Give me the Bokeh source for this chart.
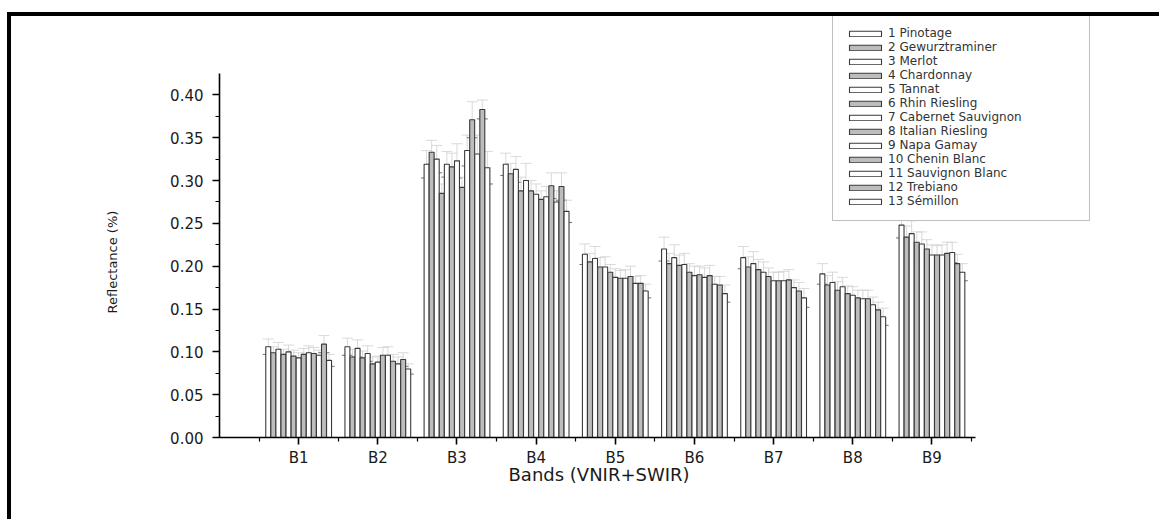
from bokeh.plotting import figure
from bokeh.models import (ColumnDataSource, Legend, LegendItem, FixedTicker,
                          SingleIntervalTicker, NumeralTickFormatter, Whisker,
                          Range1d, TeeHead, Spacer, Title)
from bokeh.layouts import column, row
from bokeh.transform import dodge
from bokeh.embed import file_html
from bokeh.resources import INLINE

bands = ["B1", "B2", "B3", "B4", "B5", "B6", "B7", "B8", "B9"]
varieties = ["1 Pinotage", "2 Gewurztraminer", "3 Merlot", "4 Chardonnay", "5 Tannat",
             "6 Rhin Riesling", "7 Cabernet Sauvignon", "8 Italian Riesling",
             "9 Napa Gamay", "10 Chenin Blanc", "11 Sauvignon Blanc", "12 Trebiano",
             "13 Sémillon"]

# mean reflectance per band, one value per variety (1..13)
B1 = [0.106, 0.099, 0.103, 0.097, 0.100, 0.095, 0.093, 0.097, 0.099, 0.098, 0.096, 0.109, 0.090]
B2 = [0.106, 0.094, 0.104, 0.093, 0.098, 0.086, 0.088, 0.096, 0.096, 0.089, 0.086, 0.091, 0.080]
B3 = [0.319, 0.333, 0.325, 0.285, 0.319, 0.316, 0.323, 0.292, 0.335, 0.371, 0.331, 0.383, 0.315]
B4 = [0.319, 0.308, 0.313, 0.288, 0.300, 0.288, 0.284, 0.278, 0.281, 0.294, 0.275, 0.293, 0.264]
B5 = [0.214, 0.205, 0.209, 0.199, 0.199, 0.193, 0.187, 0.186, 0.186, 0.188, 0.180, 0.180, 0.171]
B6 = [0.220, 0.203, 0.210, 0.201, 0.202, 0.193, 0.189, 0.190, 0.187, 0.189, 0.179, 0.178, 0.168]
B7 = [0.210, 0.199, 0.203, 0.196, 0.193, 0.188, 0.183, 0.183, 0.183, 0.184, 0.175, 0.171, 0.163]
B8 = [0.191, 0.178, 0.181, 0.172, 0.176, 0.168, 0.166, 0.163, 0.162, 0.162, 0.155, 0.149, 0.141]
B9 = [0.248, 0.234, 0.238, 0.228, 0.226, 0.220, 0.213, 0.213, 0.213, 0.215, 0.216, 0.203, 0.193]

# standard deviations per band
E1 = [0.009, 0.007, 0.008, 0.006, 0.008, 0.007, 0.006, 0.007, 0.008, 0.007, 0.006, 0.010, 0.007]
E2 = [0.010, 0.009, 0.010, 0.008, 0.009, 0.008, 0.007, 0.009, 0.010, 0.008, 0.008, 0.008, 0.006]
E3 = [0.016, 0.014, 0.016, 0.011, 0.015, 0.016, 0.020, 0.012, 0.018, 0.021, 0.022, 0.011, 0.019]
E4 = [0.013, 0.012, 0.015, 0.016, 0.020, 0.012, 0.012, 0.010, 0.012, 0.015, 0.013, 0.016, 0.013]
E5 = [0.012, 0.010, 0.014, 0.011, 0.012, 0.009, 0.010, 0.009, 0.010, 0.012, 0.008, 0.009, 0.008]
E6 = [0.014, 0.012, 0.015, 0.012, 0.013, 0.010, 0.011, 0.010, 0.011, 0.012, 0.009, 0.010, 0.010]
E7 = [0.013, 0.012, 0.014, 0.012, 0.012, 0.010, 0.010, 0.010, 0.011, 0.012, 0.009, 0.010, 0.011]
E8 = [0.012, 0.011, 0.012, 0.010, 0.011, 0.009, 0.010, 0.009, 0.010, 0.010, 0.009, 0.009, 0.010]
E9 = [0.015, 0.013, 0.015, 0.012, 0.014, 0.011, 0.012, 0.011, 0.012, 0.013, 0.012, 0.011, 0.010]

band_values = [B1, B2, B3, B4, B5, B6, B7, B8, B9]
band_errors = [E1, E2, E3, E4, E5, E6, E7, E8, E9]
band_pos = [1, 2, 3, 4, 5, 6, 7, 8, 9]

W, H = 1159, 519
OX, OY = 11, 16            # page offset of the plot canvas (black frame lines)
PW, PH = W - OX, H - OY
FL, FB = 219 - OX, 437 - OY  # frame left / bottom inside the canvas
px_per_x = 79.16
px_per_y = 856.5

p = figure(width=PW, height=PH, output_backend="svg", toolbar_location=None,
           x_range=Range1d(0, (PW - FL) / px_per_x),
           y_range=Range1d(0, FB / px_per_y),
           min_border_left=FL, min_border_right=0,
           min_border_top=0, min_border_bottom=PH - FB)
p.background_fill_color = "white"
p.border_fill_color = "white"
p.outline_line_color = None
p.xgrid.visible = False
p.ygrid.visible = False

bw = 0.064
fills = ["white", "#bdbdbd"]
items = []
for i, name in enumerate(varieties):
    tops = [bv[i] for bv in band_values]
    errs = [be[i] for be in band_errors]
    src = ColumnDataSource(dict(x=band_pos, top=tops,
                                lo=[t - e for t, e in zip(tops, errs)],
                                hi=[t + e for t, e in zip(tops, errs)]))
    off = (i - 6) * bw
    r = p.vbar(x=dodge("x", off, range=p.x_range), top="top", bottom=0, width=bw * 0.98,
               source=src, fill_color=fills[i % 2], line_color="#3a3a3a", line_width=1.1)
    w = Whisker(base=dodge("x", off, range=p.x_range), upper="hi", lower="lo", source=src,
                line_color="#cfcfcf", line_width=0.8,
                upper_head=TeeHead(size=11, line_color="#d0d0d0", line_width=0.8),
                lower_head=TeeHead(size=11, line_color="#707070", line_width=1))
    p.add_layout(w)
    items.append(LegendItem(label=name, renderers=[r]))

font = "DejaVu Sans"
p.xaxis.ticker = FixedTicker(ticks=band_pos, minor_ticks=[b + 0.5 for b in [0] + band_pos])
p.xaxis.major_label_overrides = {b: n for b, n in zip(band_pos, bands)}
p.xaxis.bounds = (0, 9.55)
p.yaxis.bounds = (0, 0.425)
p.yaxis.ticker = SingleIntervalTicker(interval=0.05, num_minor_ticks=2)
p.yaxis.formatter = NumeralTickFormatter(format="0.00")
for ax in (p.xaxis[0], p.yaxis[0]):
    ax.axis_line_color = "black"
    ax.axis_line_width = 1.6
    ax.major_tick_line_color = "black"
    ax.major_tick_line_width = 1.6
    ax.minor_tick_line_color = "black"
    ax.minor_tick_line_width = 1.2
    ax.major_tick_out = 7
    ax.major_tick_in = 0
    ax.minor_tick_out = 4
    ax.minor_tick_in = 0
    ax.major_label_text_font = font
    ax.major_label_text_font_size = "15px"
    ax.major_label_text_color = "#1a1a1a"
p.yaxis.major_label_standoff = 9
p.xaxis.major_label_standoff = 4

# axis titles (placed as side titles so they centre on the drawn axis lines)
x_title = Title(text="Bands (VNIR+SWIR)", align="left", offset=289, standoff=-11,
                vertical_align="top", text_font=font, text_font_size="18px",
                text_font_style="normal", text_color="#1a1a1a")
y_title = Title(text="Reflectance (%)", align="left", offset=124, standoff=96,
                vertical_align="bottom", text_font=font, text_font_size="13px",
                text_font_style="normal", text_color="#1a1a1a")
p.add_layout(x_title, "below")
p.add_layout(y_title, "left")

legend = Legend(items=items, location=(832 - 219, 437 - 221), orientation="vertical",
                glyph_width=40, glyph_height=7, label_height=13, spacing=0,
                label_standoff=3, label_width=189, padding=12, margin=0,
                label_text_font=font, label_text_font_size="12px",
                label_text_color="#333333",
                border_line_color="#808080", border_line_width=1.5,
                background_fill_color="white", background_fill_alpha=1)
p.add_layout(legend, "center")

# page frame: thick black lines at the top and on the left
top_line = row(Spacer(width=7, height=4),
               Spacer(width=W - 7, height=4, styles={"background-color": "black"}),
               spacing=0)
body = row(Spacer(width=7, height=PH),
           Spacer(width=4, height=PH, styles={"background-color": "black"}),
           p, spacing=0)
page = column(Spacer(width=W, height=OY - 4), top_line, body, spacing=0)

open("out.html", "w").write(file_html(page, INLINE))
